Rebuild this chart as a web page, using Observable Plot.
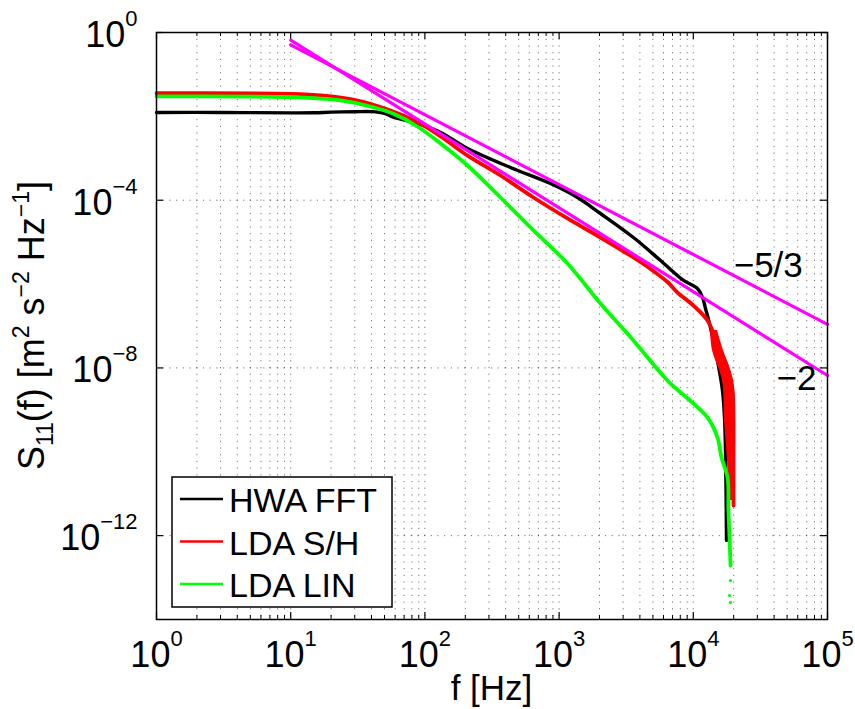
<!DOCTYPE html>
<html><head><meta charset="utf-8">
<script src="https://cdn.jsdelivr.net/npm/d3@7"></script>
<script src="https://cdn.jsdelivr.net/npm/@observablehq/plot@0.6"></script>
<style>
body{margin:0;background:#fff;}
svg{font-family:"Liberation Sans",Arial,Helvetica,sans-serif;}
</style>
</head><body><div id="chart"></div>
<script>
// ---- data ----
const seriesNames = ["HWA FFT", "LDA S/H", "LDA LIN"];
const seriesColors = ["#000000", "#ff0000", "#00ff00"];

const hwaFreq = [1, 3, 10, 15, 20, 30, 40, 50, 58.3, 88, 131, 208, 434, 863, 1371, 2034, 3581, 5700, 8453, 10740, 11710, 12330, 13430, 15140, 16500, 17080, 17380, 17680];
const hwaPsd  = [1.24e-2, 1.24e-2, 1.21e-2, 1.22e-2, 1.26e-2, 1.29e-2, 1.3e-2, 1.18e-2, 9.6e-3, 6.76e-3, 4.12e-3, 1.71e-3, 6.03e-4, 2.5e-4, 1.16e-4, 4.82e-5, 1.29e-5, 3.65e-6, 1.22e-6, 7.85e-7, 4.79e-7, 2.62e-7, 9.2e-8, 1.5e-8, 2.9e-9, 6.6e-10, 1.07e-10, 7.7e-13];

const shFreq = [1, 10, 17.5, 31.5, 55.4, 88, 131, 208, 366, 645, 1155, 2034, 3581, 4797, 6426, 7620, 10030, 12760, 15140, 17990, 19590, 19940, 19940, 19940];
const shPsd  = [3.56e-2, 3.45e-2, 3.14e-2, 2.39e-2, 1.38e-2, 7.26e-3, 3.31e-3, 1.16e-3, 3.89e-4, 1.16e-4, 3.67e-5, 1.29e-5, 4.3e-6, 2.3e-6, 1.12e-6, 6.3e-7, 3.08e-7, 1.35e-7, 3.83e-8, 1.02e-8, 2.9e-9, 6.6e-10, 1.07e-10, 5.2e-12];

// noisy high-frequency envelope of the S/H spectrum
const shBandPsd = [7.8e-8, 2.61e-8, 5.0e-9, 5.6e-10, 6.2e-11, 6.9e-12];
const shBandLo  = [13430, 13900, 16500, 17080, 17990, 18940];
const shBandHi  = [15140, 16790, 19940, 20590, 20590, 20270];

const linFreq = [1, 10, 23.5, 41.4, 58.3, 88, 131, 208, 366, 645, 1155, 2034, 3581, 6426, 10030, 12760, 15140, 16220, 17990, 18270, 18620, 18940];
const linPsd  = [2.98e-2, 2.86e-2, 2.39e-2, 1.65e-2, 1.15e-2, 5.73e-3, 2.25e-3, 6.73e-4, 1.16e-4, 1.9e-5, 3.1e-6, 3.44e-7, 4.51e-8, 5.0e-9, 1.42e-9, 6.58e-10, 2.19e-10, 7.3e-11, 2.44e-11, 3.98e-12, 9.0e-13, 1.94e-13];
const linDotFreq = [18940, 18620, 18940];
const linDotPsd  = [8.5e-14, 3.74e-14, 2.55e-14];

// reference slopes
const slopeFreq = [10, 1e5];
const slope53Psd = [0.509, 1.096e-7];
const slope2Psd  = [0.66, 6.6e-9];
const slopeLabels = ["−5/3", "−2"];
const slopeLabelFreq = [2.0e4, 4.17e4];
const slopeLabelPsd  = [2.77e-6, 5.6e-9];

// axes / ticks
const xMajor = [1, 10, 100, 1000, 10000, 100000];
const xMinor = [];
for (let k = 0; k < 5; k++) for (let m = 2; m <= 9; m++) xMinor.push(m * Math.pow(10, k));
const yMajor = [1, 1e-4, 1e-8, 1e-12];
const yGrid = [1e-4, 1e-8, 1e-12];
const xLabel = "f [Hz]";

// ---- tables ----
const zip = (fs, ss) => fs.map((f, i) => ({f, s: ss[i]}));
const hwa = zip(hwaFreq, hwaPsd);
const sh = zip(shFreq, shPsd);
const lin = zip(linFreq, linPsd);
const linDots = zip(linDotFreq, linDotPsd);
const shBand = shBandPsd.map((s, i) => ({s, lo: shBandLo[i], hi: shBandHi[i]}));
const s53 = zip(slopeFreq, slope53Psd);
const s2 = zip(slopeFreq, slope2Psd);
const slopeText = slopeLabels.map((t, i) => ({t, f: slopeLabelFreq[i], s: slopeLabelPsd[i]}));

const expStr = d => {
  const e = Math.round(Math.log10(d));
  return "10^" + (e < 0 ? "−" + (-e) : String(e));
};

const W = 855, H = 709;
const mL = 156, mR = 28, mT = 32, mB = 90;
const fw = W - mL - mR, fh = H - mT - mB;
const grid = {stroke: "#000", strokeOpacity: 0.55, strokeWidth: 1, strokeDasharray: "1.2,5.5"};
const crv = "catmull-rom";

const chart = Plot.plot({
  width: W, height: H,
  marginLeft: mL, marginRight: mR, marginTop: mT, marginBottom: mB,
  style: {fontFamily: '"Liberation Sans",Arial,Helvetica,sans-serif', background: "#fff", color: "#000", overflow: "visible"},
  x: {type: "log", domain: [1, 1e5], label: null},
  y: {type: "log", domain: [1e-14, 1], label: null},
  marks: [
    Plot.ruleX(xMinor.concat(xMajor.slice(1, 5)), grid),
    Plot.ruleY(yGrid, grid),
    // inward ticks
    Plot.ruleX(xMinor, {stroke: "#000", strokeWidth: 1, insetTop: fh - 4}),
    Plot.ruleX(xMinor, {stroke: "#000", strokeWidth: 1, insetBottom: fh - 4}),
    Plot.ruleX(xMajor, {stroke: "#000", strokeWidth: 1.2, insetTop: fh - 7}),
    Plot.ruleX(xMajor, {stroke: "#000", strokeWidth: 1.2, insetBottom: fh - 7}),
    Plot.ruleY(yMajor, {stroke: "#000", strokeWidth: 1.2, insetRight: fw - 7}),
    Plot.ruleY(yMajor, {stroke: "#000", strokeWidth: 1.2, insetLeft: fw - 7}),
    // tick labels
    Plot.axisX({anchor: "bottom", ticks: xMajor, tickSize: 0, tickPadding: 22, fontSize: 36, tickFormat: expStr, label: null}),
    Plot.axisY({anchor: "left", ticks: yMajor, tickSize: 0, tickPadding: 19, fontSize: 36, dy: 3, tickFormat: expStr, label: null}),
    // data
    Plot.line(hwa, {x: "f", y: "s", stroke: seriesColors[0], strokeWidth: 3.4, curve: crv}),
    Plot.areaX(shBand, {y: "s", x1: "lo", x2: "hi", fill: seriesColors[1], curve: crv}),
    Plot.line(sh, {x: "f", y: "s", stroke: seriesColors[1], strokeWidth: 3.8, curve: crv}),
    Plot.line(lin, {x: "f", y: "s", stroke: seriesColors[2], strokeWidth: 3.8, curve: crv}),
    Plot.dot(linDots, {x: "f", y: "s", r: 1.6, fill: seriesColors[2], stroke: null}),
    Plot.line(s53, {x: "f", y: "s", stroke: "#ff00ff", strokeWidth: 3.2}),
    Plot.line(s2, {x: "f", y: "s", stroke: "#ff00ff", strokeWidth: 3.2}),
    Plot.text(slopeText, {x: "f", y: "s", text: "t", fontSize: 35, textAnchor: "start", fill: "#000"}),
    Plot.frame({stroke: "#000", strokeWidth: 1.5})
  ]
});

const svg = d3.select(chart);
// superscripts in tick labels
svg.selectAll("text").each(function () {
  const t = this.textContent;
  if (t.indexOf("^") < 0) return;
  const [base, exp] = t.split("^");
  const el = d3.select(this);
  el.text(null);
  el.append("tspan").text(base);
  el.append("tspan").attr("font-size", 22).attr("dy", -21).text(exp);
});

// x label
svg.append("text").attr("x", mL + fw / 2).attr("y", 700).attr("text-anchor", "middle")
  .attr("font-size", 35).attr("fill", "#000").text(xLabel);

// y label with sub/superscripts
const yl = svg.append("text").attr("transform", `translate(44,${mT + fh / 2}) rotate(-90)`)
  .attr("text-anchor", "middle").attr("font-size", 36).attr("fill", "#000");
const parts = [["S", 0], ["11", 1], ["(f) [m", 0], ["2", 2], [" s", 0], ["−2", 2], [" Hz", 0], ["−1", 2], ["]", 0]];
let cur = 0;
parts.forEach(([txt, kind]) => {
  const target = kind === 1 ? 9 : kind === 2 ? -15 : 0;
  const ts = yl.append("tspan").attr("dy", target - cur).text(txt);
  if (kind) ts.attr("font-size", 23);
  cur = target;
});

// legend (inside the axes, lower left)
const lg = svg.append("g").attr("text-anchor", "start");
lg.append("rect").attr("x", 172).attr("y", 477).attr("width", 220).attr("height", 130)
  .attr("fill", "#fff").attr("stroke", "#000").attr("stroke-width", 1.5);
seriesNames.forEach((name, i) => {
  const y = 499 + i * 42.5;
  lg.append("line").attr("x1", 180).attr("x2", 223).attr("y1", y).attr("y2", y)
    .attr("stroke", seriesColors[i]).attr("stroke-width", 2.5);
  lg.append("text").attr("x", 229).attr("y", y + 13).attr("font-size", 34)
    .attr("text-anchor", "start").attr("fill", "#000").text(name);
});

document.getElementById("chart").appendChild(chart);
</script>
</body></html>
